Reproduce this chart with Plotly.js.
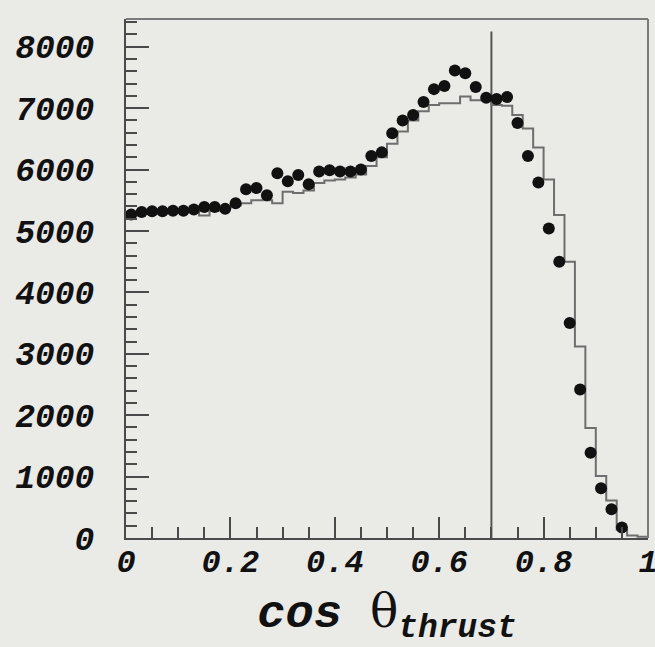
<!DOCTYPE html>
<html><head><meta charset="utf-8">
<script src="https://cdn.plot.ly/plotly-3.0.1.min.js"></script>
<style>html,body{margin:0;padding:0;background:#eaeae7}</style>
</head><body><div id="chart" style="width:655px;height:647px"></div>
<script>
// Data points (bin centres)
const dataX = [0.01,0.03,0.05,0.07,0.09,0.11,0.13,0.15,0.17,0.19,
               0.21,0.23,0.25,0.27,0.29,0.31,0.33,0.35,0.37,0.39,
               0.41,0.43,0.45,0.47,0.49,0.51,0.53,0.55,0.57,0.59,
               0.61,0.63,0.65,0.67,0.69,0.71,0.73,0.75,0.77,0.79,
               0.81,0.83,0.85,0.87,0.89,0.91,0.93,0.95];
const dataY = [5270,5310,5320,5320,5330,5330,5350,5390,5390,5360,
               5450,5680,5700,5580,5940,5810,5910,5760,5970,5990,
               5970,5970,6000,6220,6280,6590,6800,6890,7100,7310,
               7360,7615,7570,7345,7170,7150,7180,6760,6220,5790,
               5040,4500,3500,2420,1390,810,470,170];
// Simulation histogram (bin low edges and contents)
const mcX = [0.00,0.02,0.04,0.06,0.08,0.10,0.12,0.14,0.16,0.18,
             0.20,0.22,0.24,0.26,0.28,0.30,0.32,0.34,0.36,0.38,
             0.40,0.42,0.44,0.46,0.48,0.50,0.52,0.54,0.56,0.58,
             0.60,0.62,0.64,0.66,0.68,0.70,0.72,0.74,0.76,0.78,
             0.80,0.82,0.84,0.86,0.88,0.90,0.92,0.94,0.96,0.98];
const mcY = [5260,5280,5290,5300,5300,5310,5320,5250,5330,5370,
             5420,5450,5500,5500,5450,5640,5620,5660,5780,5820,
             5840,5870,5920,6060,6200,6420,6620,6800,6950,7050,
             7080,7080,7190,7130,7130,7050,7040,6890,6670,6360,
             5840,5260,4500,3120,1790,1010,610,140,40,20];
const mcXEnd = 1.0;
// Cut line
const cutX = [0.7, 0.7];
const cutY = [0, 8250];
// Ticks
const xTickVals = [0, 0.2, 0.4, 0.6, 0.8, 1];
const xTickText = ['0', '0.2', '0.4', '0.6', '0.8', '1'];
const yTickVals = [0,1000,2000,3000,4000,5000,6000,7000,8000];
const yTickText = ['0','1000','2000','3000','4000','5000','6000','7000','8000'];

const histX = mcX.concat([mcXEnd]);
const histY = mcY.concat([mcY[mcY.length - 1]]);

const bg = '#eaeae7';
const axisCol = '#4a4a4a';
const tickFont = {family: 'Liberation Mono', size: 33, weight: 'bold', style: 'italic', color: '#111'};
const xTickFont = {family: 'Liberation Mono', size: 32, weight: 'bold', style: 'italic', color: '#111'};

const traces = [
  {x: cutX, y: cutY, mode: 'lines', line: {color: '#555', width: 2}, hoverinfo: 'skip', showlegend: false},
  {x: histX, y: histY, mode: 'lines', line: {shape: 'hv', color: '#6e6e6e', width: 2}, showlegend: false},
  {x: dataX, y: dataY, mode: 'markers', marker: {color: '#111', size: 12}, showlegend: false}
];

const layout = {
  width: 655, height: 647,
  margin: {l: 126, r: 7, t: 19, b: 109},
  paper_bgcolor: bg, plot_bgcolor: bg,
  showlegend: false,
  xaxis: {
    range: [0, 1], tickmode: 'array', tickvals: xTickVals, ticktext: xTickText,
    ticks: 'inside', ticklen: 21, tickwidth: 2, tickcolor: axisCol,
    minor: {tickmode: 'linear', tick0: 0, dtick: 0.05, ticks: 'inside', ticklen: 11, tickwidth: 2, tickcolor: axisCol, showgrid: false},
    showline: true, linecolor: axisCol, linewidth: 2, showgrid: false, zeroline: false,
    tickfont: xTickFont, ticklabelstandoff: -6, ticklabeloverflow: 'allow',
    title: {
      text: "cos <span style='font-family:DejaVu Serif;font-weight:normal;font-style:normal'>θ</span><sub>thrust</sub>",
      font: {family: 'Liberation Mono', size: 47, weight: 'bold', style: 'italic', color: '#111'},
      standoff: 20
    }
  },
  yaxis: {
    range: [0, 8452], tickmode: 'array', tickvals: yTickVals, ticktext: yTickText,
    ticks: 'inside', ticklen: 23, tickwidth: 2, tickcolor: axisCol,
    minor: {tickmode: 'linear', tick0: 0, dtick: 200, ticks: 'inside', ticklen: 11, tickwidth: 2, tickcolor: axisCol, showgrid: false},
    showline: true, linecolor: axisCol, linewidth: 2, showgrid: false, zeroline: false,
    tickfont: tickFont, ticklabelstandoff: 23
  },
  shapes: [
    {type: 'line', xref: 'paper', yref: 'paper', x0: 0, x1: 1, y0: 1, y1: 1, line: {color: '#7a7a7a', width: 2}},
    {type: 'line', xref: 'paper', yref: 'paper', x0: 1, x1: 1, y0: 0, y1: 1, line: {color: '#7a7a7a', width: 2}}
  ]
};

Plotly.newPlot('chart', traces, layout, {displayModeBar: false, staticPlot: true});
</script>
</body></html>
